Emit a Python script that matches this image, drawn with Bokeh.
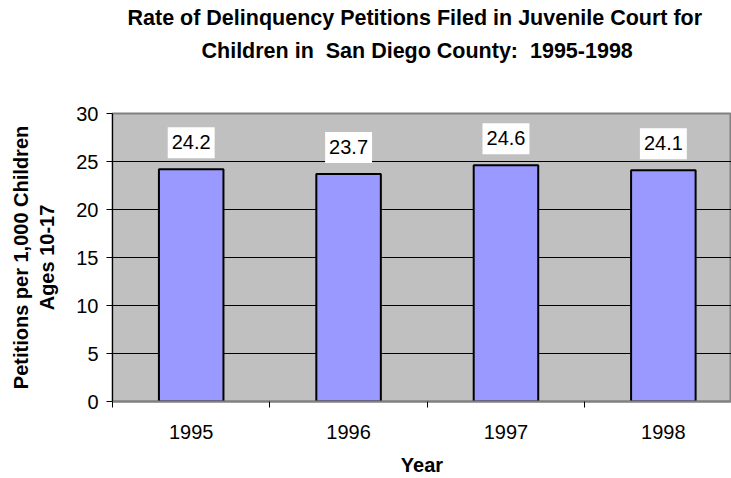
from bokeh.plotting import figure
from bokeh.models import Range1d, FixedTicker, Label, Title, ColumnDataSource
from bokeh.embed import file_html
from bokeh.resources import INLINE

years = ["1995", "1996", "1997", "1998"]
rates = [24.2, 23.7, 24.6, 24.1]
y_ticks = [0, 5, 10, 15, 20, 25, 30]
title_lines = ["Rate of Delinquency Petitions Filed in Juvenile Court for",
               "Children in\u00a0 San Diego County:\u00a0 1995-1998"]
y_title = "Petitions per 1,000 Children\nAges 10-17"
x_title = "Year"

FONT = "Liberation Sans"
x_pos = [i + 0.5 for i in range(len(years))]
boundaries = list(range(len(years) + 1))

p = figure(width=731, height=478, output_backend="svg", toolbar_location=None,
           x_range=Range1d(0, 3.933), y_range=Range1d(0, 30),
           min_border_left=112, min_border_top=112, min_border_bottom=76,
           min_border_right=0)
p.title = None
p.background_fill_color = "#C0C0C0"
p.border_fill_color = "white"
p.outline_line_color = "#808080"
p.outline_line_width = 2

src = ColumnDataSource(dict(x=x_pos, top=rates, year=years))
p.vbar(x="x", top="top", bottom=0, width=0.41, source=src,
       fill_color="#9999FF", line_color="black", line_width=2)

for xv, v in zip(x_pos, rates):
    p.add_layout(Label(x=xv, y=v, text=f"{v}", text_align="center",
                       text_baseline="bottom", y_offset=11,
                       text_font=FONT, text_font_size="20px", text_color="black",
                       background_fill_color="white",
                       padding=dict(left=4, right=4, top=8, bottom=9)))

p.xgrid.visible = False
p.ygrid.ticker = FixedTicker(ticks=y_ticks)
p.ygrid.grid_line_color = "black"
p.ygrid.grid_line_width = 1

# y axis
p.yaxis.ticker = FixedTicker(ticks=y_ticks)
p.yaxis.axis_line_color = "black"
p.yaxis.axis_line_width = 1
p.yaxis.major_tick_out = 6
p.yaxis.major_tick_in = 0
p.yaxis.minor_tick_line_color = None
p.yaxis.major_label_standoff = 8
p.yaxis.major_label_text_font = FONT
p.yaxis.major_label_text_font_size = "20px"
p.yaxis.major_label_text_color = "black"
p.yaxis.axis_label = y_title
p.yaxis.axis_label_text_font = FONT
p.yaxis.axis_label_text_font_size = "20px"
p.yaxis.axis_label_text_font_style = "bold"
p.yaxis.axis_label_text_color = "black"
p.yaxis.axis_label_standoff = 15

# x axis
p.xaxis.ticker = FixedTicker(ticks=x_pos, minor_ticks=boundaries)
p.xaxis.major_label_overrides = {xv: y for xv, y in zip(x_pos, years)}
p.xaxis.axis_line_color = "#808080"
p.xaxis.axis_line_width = 2
p.xaxis.major_tick_line_color = None
p.xaxis.major_tick_out = 0
p.xaxis.major_tick_in = 0
p.xaxis.minor_tick_line_color = "black"
p.xaxis.minor_tick_out = 6
p.xaxis.minor_tick_in = 0
p.xaxis.major_label_standoff = 17
p.xaxis.major_label_text_font = FONT
p.xaxis.major_label_text_font_size = "20px"
p.xaxis.major_label_text_color = "black"
p.xaxis.axis_label = x_title
p.xaxis.axis_label_text_font = FONT
p.xaxis.axis_label_text_font_size = "20px"
p.xaxis.axis_label_text_font_style = "bold"
p.xaxis.axis_label_text_color = "black"
p.xaxis.axis_label_standoff = 12

# spacer between plot frame and title block
p.add_layout(Title(text="\u00a0", text_font_size="4px", standoff=40), "above")
for line, off in zip(reversed(title_lines), [89, 15]):
    p.add_layout(Title(text=line, align="left", offset=off, standoff=7,
                       text_font=FONT, text_font_size="21.5px",
                       text_font_style="bold", text_color="black"), "above")

open("out.html", "w").write(file_html(p, INLINE))
